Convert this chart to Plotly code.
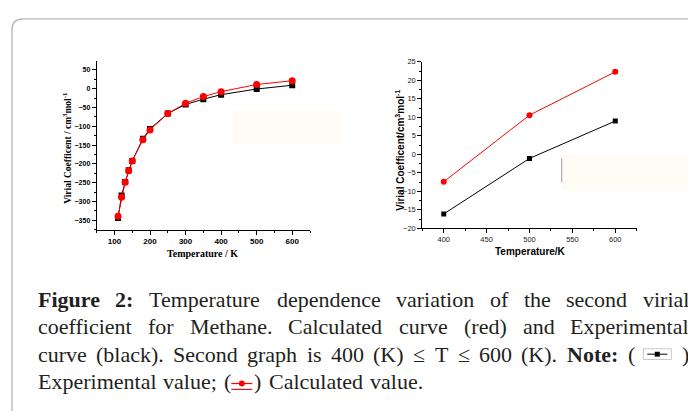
import plotly.graph_objects as go

# ---------------- data ----------------
temp_full = [110, 120, 130, 140, 150, 180, 200, 250, 300, 350, 400, 500, 600]
exp_full = [-344, -284, -248, -217, -192, -133, -107, -66, -42, -28, -16, -1, 9]
calc_full = [-339, -289, -249, -218, -192, -136, -110, -66, -39, -21, -8, 11, 21]

temp_zoom = [400, 500, 600]
exp_zoom = [-16.1, -1.1, 9.0]
calc_zoom = [-7.4, 10.6, 22.3]

# page body has an 8px margin -> figure is 688x403 placed at (8, 8)
OFF = 8
W, H = 696 - OFF, 411 - OFF


def px(x):
    return (x - OFF) / W


def py(y):
    return 1 - (y - OFF) / H


fig = go.Figure()

fig.add_trace(go.Scatter(x=temp_full, y=exp_full, mode="lines+markers",
                         line=dict(color="black", width=1),
                         marker=dict(symbol="square", size=6, color="black"),
                         xaxis="x", yaxis="y", showlegend=False))
fig.add_trace(go.Scatter(x=temp_full, y=calc_full, mode="lines+markers",
                         line=dict(color="#ff0000", width=1),
                         marker=dict(symbol="circle", size=7, color="#ff0000"),
                         xaxis="x", yaxis="y", showlegend=False))
fig.add_trace(go.Scatter(x=temp_zoom, y=exp_zoom, mode="lines+markers",
                         line=dict(color="black", width=1),
                         marker=dict(symbol="square", size=5, color="black"),
                         xaxis="x2", yaxis="y2", showlegend=False))
fig.add_trace(go.Scatter(x=temp_zoom, y=calc_zoom, mode="lines+markers",
                         line=dict(color="#ff0000", width=1),
                         marker=dict(symbol="circle", size=6, color="#ff0000"),
                         xaxis="x2", yaxis="y2", showlegend=False))

axis_common = dict(showline=True, linecolor="black", linewidth=1, ticks="outside",
                   ticklen=4, tickwidth=1, tickcolor="black", showgrid=False,
                   zeroline=False, mirror=False)

fig.update_layout(
    width=W, height=H, margin=dict(l=0, r=0, t=0, b=0),
    paper_bgcolor="white", plot_bgcolor="rgba(0,0,0,0)",
    xaxis=dict(domain=[px(96.7), px(310)], range=[50, 650], tick0=0, dtick=100,
               tickfont=dict(family="Liberation Sans", size=8, color="black", weight="bold"),
               minor=dict(ticks="outside", ticklen=2, dtick=50, tick0=0, tickcolor="black"),
               anchor="y", **axis_common),
    yaxis=dict(domain=[py(230.7), py(58.3)], range=[-375, 73], tick0=0, dtick=50,
               tickfont=dict(family="Liberation Sans", size=7, color="black", weight="bold"),
               minor=dict(ticks="outside", ticklen=2, dtick=25, tick0=0, tickcolor="black"),
               anchor="x", **axis_common),
    xaxis2=dict(domain=[px(422.3), px(636.7)], range=[375, 625], tick0=0, dtick=50,
                tickfont=dict(family="Liberation Sans", size=7.5, color="#222"),
                minor=dict(ticks="outside", ticklen=2, dtick=25, tick0=0, tickcolor="black"),
                anchor="y2", **axis_common),
    yaxis2=dict(domain=[py(229.3), py(59)], range=[-20, 25], tick0=0, dtick=5,
                tickfont=dict(family="Liberation Sans", size=7.5, color="#222"),
                minor=dict(ticks="outside", ticklen=2, dtick=2.5, tick0=0, tickcolor="black"),
                anchor="x2", **axis_common),
)

ann = []
ann.append(dict(text="Virial Coefficent / cm<sup>3</sup>mol<sup>-1</sup>", x=px(67), y=py(148),
                textangle=-90, xanchor="center", yanchor="middle",
                font=dict(family="Liberation Serif", size=9.5, color="black", weight="bold")))
ann.append(dict(text="Temperature / K", x=px(202), y=py(255), xanchor="center", yanchor="middle",
                font=dict(family="Liberation Serif", size=10, color="black", weight="bold")))
ann.append(dict(text="Virial Coefficent/cm<sup>3</sup>mol<sup>-1</sup>", x=px(400), y=py(150),
                textangle=-90, xanchor="center", yanchor="middle",
                font=dict(family="Liberation Sans", size=10, color="black", weight="bold")))
ann.append(dict(text="Temperature/K", x=px(530), y=py(253), xanchor="center", yanchor="middle",
                font=dict(family="Liberation Sans", size=10, color="black", weight="bold")))

# ---------- caption (justified using Times / Liberation Serif metrics) ----------
REG = {' ': 250, 'a': 444, 'b': 500, 'c': 444, 'd': 500, 'e': 444, 'f': 333, 'g': 500, 'h': 500,
       'i': 278, 'j': 278, 'k': 500, 'l': 278, 'm': 778, 'n': 500, 'o': 500, 'p': 500, 'q': 500,
       'r': 333, 's': 389, 't': 278, 'u': 500, 'v': 500, 'w': 722, 'x': 500, 'y': 500, 'z': 444,
       'C': 667, 'E': 611, 'F': 556, 'K': 722, 'M': 889, 'N': 722, 'S': 556, 'T': 611,
       '(': 333, ')': 333, '.': 250, ';': 278, ':': 278, '\u2264': 549}
BOLD = {'F': 611, 'i': 278, 'g': 500, 'u': 556, 'r': 444, 'e': 444, '2': 500, ':': 333,
        'N': 722, 'o': 500, 't': 333}
FS = 22


def wlen(word, bold):
    tot = 0
    for ch in word:
        if ch.isdigit():
            tot += 500
        elif bold:
            tot += BOLD.get(ch, REG.get(ch, 500))
        else:
            tot += REG.get(ch, 500)
    return tot / 1000 * FS


LEFT, RIGHT = 36.7, 688.0
caption_lines = [
    (302, True, [("Figure", 1), ("2:", 1), ("Temperature", 0), ("dependence", 0), ("variation", 0),
                 ("of", 0), ("the", 0), ("second", 0), ("virial", 0)]),
    (330, True, [("coefficient", 0), ("for", 0), ("Methane.", 0), ("Calculated", 0), ("curve", 0),
                 ("(red)", 0), ("and", 0), ("Experimental", 0)]),
    (358, True, [("curve", 0), ("(black).", 0), ("Second", 0), ("graph", 0), ("is", 0), ("400", 0),
                 ("(K)", 0), ("\u2264", 0), ("T", 0), ("\u2264", 0), ("600", 0), ("(K).", 0),
                 ("Note:", 1), ("(", 0), ("#BOX", 0), (")", 0)]),
    (386, False, [("Experimental", 0), ("value;", 0), ("(#RED)", 0), ("Calculated", 0), ("value.", 0)]),
]
BOX_W = 28
RED_W = 21
shapes = []
for yline, justify, words in caption_lines:
    widths = []
    for w, b in words:
        if w == "#BOX":
            widths.append(BOX_W)
        elif w == "(#RED)":
            widths.append(wlen("()", False) + RED_W + 2)
        else:
            widths.append(wlen(w, b))
    if justify:
        gap = (RIGHT - LEFT - sum(widths)) / (len(words) - 1)
    else:
        gap = 7.0
    x = LEFT
    for (w, b), wd in zip(words, widths):
        fnt = dict(family="Liberation Serif", size=FS, color="#231f20",
                   weight="bold" if b else "normal")
        if w == "#BOX":
            yc = yline
            shapes.append(dict(type="rect", xref="paper", yref="paper", x0=px(x), x1=px(x + BOX_W),
                               y0=py(yc + 5.5), y1=py(yc - 5.5), line=dict(color="#c8c8c8", width=1),
                               fillcolor="white"))
            shapes.append(dict(type="line", xref="paper", yref="paper", x0=px(x + 4), x1=px(x + BOX_W - 4),
                               y0=py(yc), y1=py(yc), line=dict(color="black", width=1)))
            shapes.append(dict(type="rect", xref="paper", yref="paper", x0=px(x + BOX_W / 2 - 2.5),
                               x1=px(x + BOX_W / 2 + 2.5), y0=py(yc + 2.5), y1=py(yc - 2.5),
                               line=dict(width=0), fillcolor="black"))
        elif w == "(#RED)":
            pw = wlen("(", False)
            ann.append(dict(text="(", x=px(x), y=py(yline), xanchor="left", yanchor="middle",
                            borderpad=0, font=fnt))
            sx = x + pw + 1
            yc = yline + 2
            shapes.append(dict(type="line", xref="paper", yref="paper", x0=px(sx), x1=px(sx + RED_W),
                               y0=py(yc), y1=py(yc), line=dict(color="#ff0000", width=1.2)))
            shapes.append(dict(type="line", xref="paper", yref="paper", x0=px(sx), x1=px(sx + RED_W),
                               y0=py(yc + 6), y1=py(yc + 6), line=dict(color="#cc2020", width=1.2)))
            shapes.append(dict(type="circle", xref="paper", yref="paper", x0=px(sx + RED_W / 2 - 3),
                               x1=px(sx + RED_W / 2 + 3), y0=py(yc + 3), y1=py(yc - 3),
                               line=dict(width=0), fillcolor="#ff0000"))
            ann.append(dict(text=")", x=px(sx + RED_W + 1), y=py(yline), xanchor="left",
                            yanchor="middle", borderpad=0, font=fnt))
        else:
            ann.append(dict(text=w, x=px(x), y=py(yline), xanchor="left", yanchor="middle",
                            borderpad=0, font=fnt))
        x += wd + gap

for a in ann:
    a.setdefault("xref", "paper")
    a.setdefault("yref", "paper")
    a.setdefault("showarrow", False)
fig.update_layout(annotations=ann)

# rounded frame
path = (f"M {px(12)},{py(430)} L {px(12)},{py(26)} Q {px(12)},{py(15)} {px(23)},{py(15)} "
        f"L {px(710)},{py(15)}")
shapes.append(dict(type="path", path=path, xref="paper", yref="paper",
                   line=dict(color="#b5b5b5", width=1.3)))
# faint pasted boxes
shapes.append(dict(type="rect", xref="paper", yref="paper", x0=px(232.7), x1=px(340),
                   y0=py(143), y1=py(108), fillcolor="#fffcf6", line=dict(width=0), layer="below"))
shapes.append(dict(type="rect", xref="paper", yref="paper", x0=px(561.7), x1=px(700),
                   y0=py(190), y1=py(154.3), fillcolor="#fffcf6", line=dict(width=0), layer="below"))
shapes.append(dict(type="line", xref="paper", yref="paper", x0=px(561.7), x1=px(561.7),
                   y0=py(182.3), y1=py(157.7), line=dict(color="#a0a0a0", width=1)))
fig.update_layout(shapes=shapes)

fig.write_html("out.html")
